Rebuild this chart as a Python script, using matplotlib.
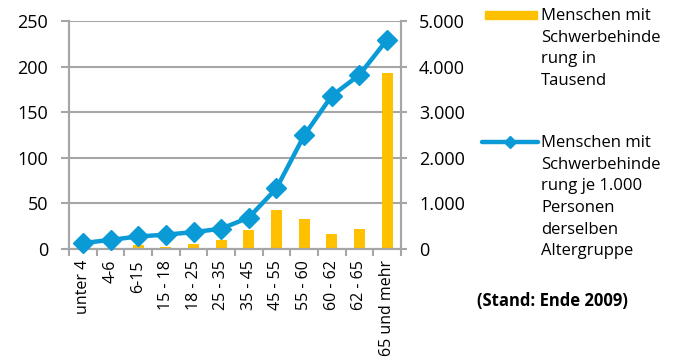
import matplotlib
matplotlib.use("Agg")
import matplotlib.pyplot as plt
from matplotlib.lines import Line2D
from matplotlib.patches import Rectangle
from matplotlib.ticker import FuncFormatter, MultipleLocator

plt.rcParams['font.family'] = ['Open Sans', 'DejaVu Sans']

# Altersgruppen
categories = ["unter 4", "4-6", "6-15", "15 - 18", "18 - 25", "25 - 35", "35 - 45",
              "45 - 55", "55 - 60", "60 - 62", "62 - 65", "65 und mehr"]
# Menschen mit Schwerbehinderung in Tausend (linke Achse)
count_thousands = [0, 1, 4.5, 2, 6, 10, 21, 43, 33, 16, 22, 193]
# Menschen mit Schwerbehinderung je 1.000 Personen derselben Altersgruppe (rechte Achse)
per_1000 = [130, 200, 275, 315, 370, 445, 690, 1330, 2490, 3360, 3820, 4590]

label_bar = "Menschen mit\nSchwerbehinde\nrung in\nTausend"
label_line = "Menschen mit\nSchwerbehinde\nrung je 1.000\nPersonen\nderselben\nAltergruppe"
note = "(Stand: Ende 2009)"

BAR_COLOR = "#FFC000"
LINE_COLOR = "#0A9BD7"
GRID = "#A6A6A6"
FS = 12
TICK_FS = 13
XTICK_FS = 11.5

fig = plt.figure(figsize=(6.78, 3.60), dpi=100)
ax = fig.add_axes([0.1018, 0.3083, 0.4896, 0.6334])
ax2 = ax.twinx()

x = list(range(len(categories)))
ax.bar(x, count_thousands, width=0.4, color=BAR_COLOR, zorder=2)
ax.set_ylim(0, 250)
ax.set_xlim(-0.5, len(categories) - 0.5)
ax.yaxis.set_major_locator(MultipleLocator(50))
ax.grid(axis='y', color=GRID, linewidth=1.5, zorder=0)
ax.set_axisbelow(True)

ax2.plot(x, per_1000, color=LINE_COLOR, linewidth=3.2, marker='D', markersize=10,
         markeredgecolor=LINE_COLOR, zorder=3, clip_on=False)
ax2.set_ylim(0, 5000)
ax2.yaxis.set_major_locator(MultipleLocator(1000))
ax2.yaxis.set_major_formatter(FuncFormatter(lambda v, p: f"{int(v):,}".replace(",", ".")))

ax.set_xticks([i - 0.5 for i in range(len(categories) + 1)], minor=False)
ax.set_xticklabels([])
ax.set_xticks(x, minor=True)
ax.set_xticklabels(categories, minor=True, rotation=90, fontsize=XTICK_FS)
ax.tick_params(axis='x', which='minor', length=0, pad=8)
ax.tick_params(axis='x', which='major', length=5, width=1.5, color=GRID)

for a in (ax, ax2):
    for side, sp in a.spines.items():
        sp.set_color(GRID)
        sp.set_linewidth(1.5)
    a.spines['top'].set_visible(False)
ax.tick_params(axis='y', length=6, width=1.5, color=GRID, labelsize=TICK_FS, pad=9)
ax2.tick_params(axis='y', length=4, width=1.5, color=GRID, labelsize=TICK_FS, pad=9)

# Legende
H, W = 360.0, 678.0
def fx(px): return px / W
def fy(py): return 1 - py / H

fig.add_artist(Rectangle((fx(485), fy(19)), fx(537) - fx(485), fy(11) - fy(19),
                         transform=fig.transFigure, color=BAR_COLOR))
fig.text(fx(541), fy(8), label_bar, fontsize=FS, va='top', ha='left', linespacing=1.47)

fig.add_artist(Line2D([fx(482), fx(538)], [fy(142), fy(142)], transform=fig.transFigure,
                      color=LINE_COLOR, linewidth=3.2, solid_capstyle='round'))
fig.add_artist(Line2D([fx(510)], [fy(142)], transform=fig.transFigure, marker='D',
                      markersize=6, color=LINE_COLOR))
fig.text(fx(541), fy(135), label_line, fontsize=FS, va='top', ha='left', linespacing=1.47)

fig.text(fx(477), fy(301), note, fontsize=FS, fontweight='bold', va='center', ha='left')

fig.savefig("out.png", dpi=100)
